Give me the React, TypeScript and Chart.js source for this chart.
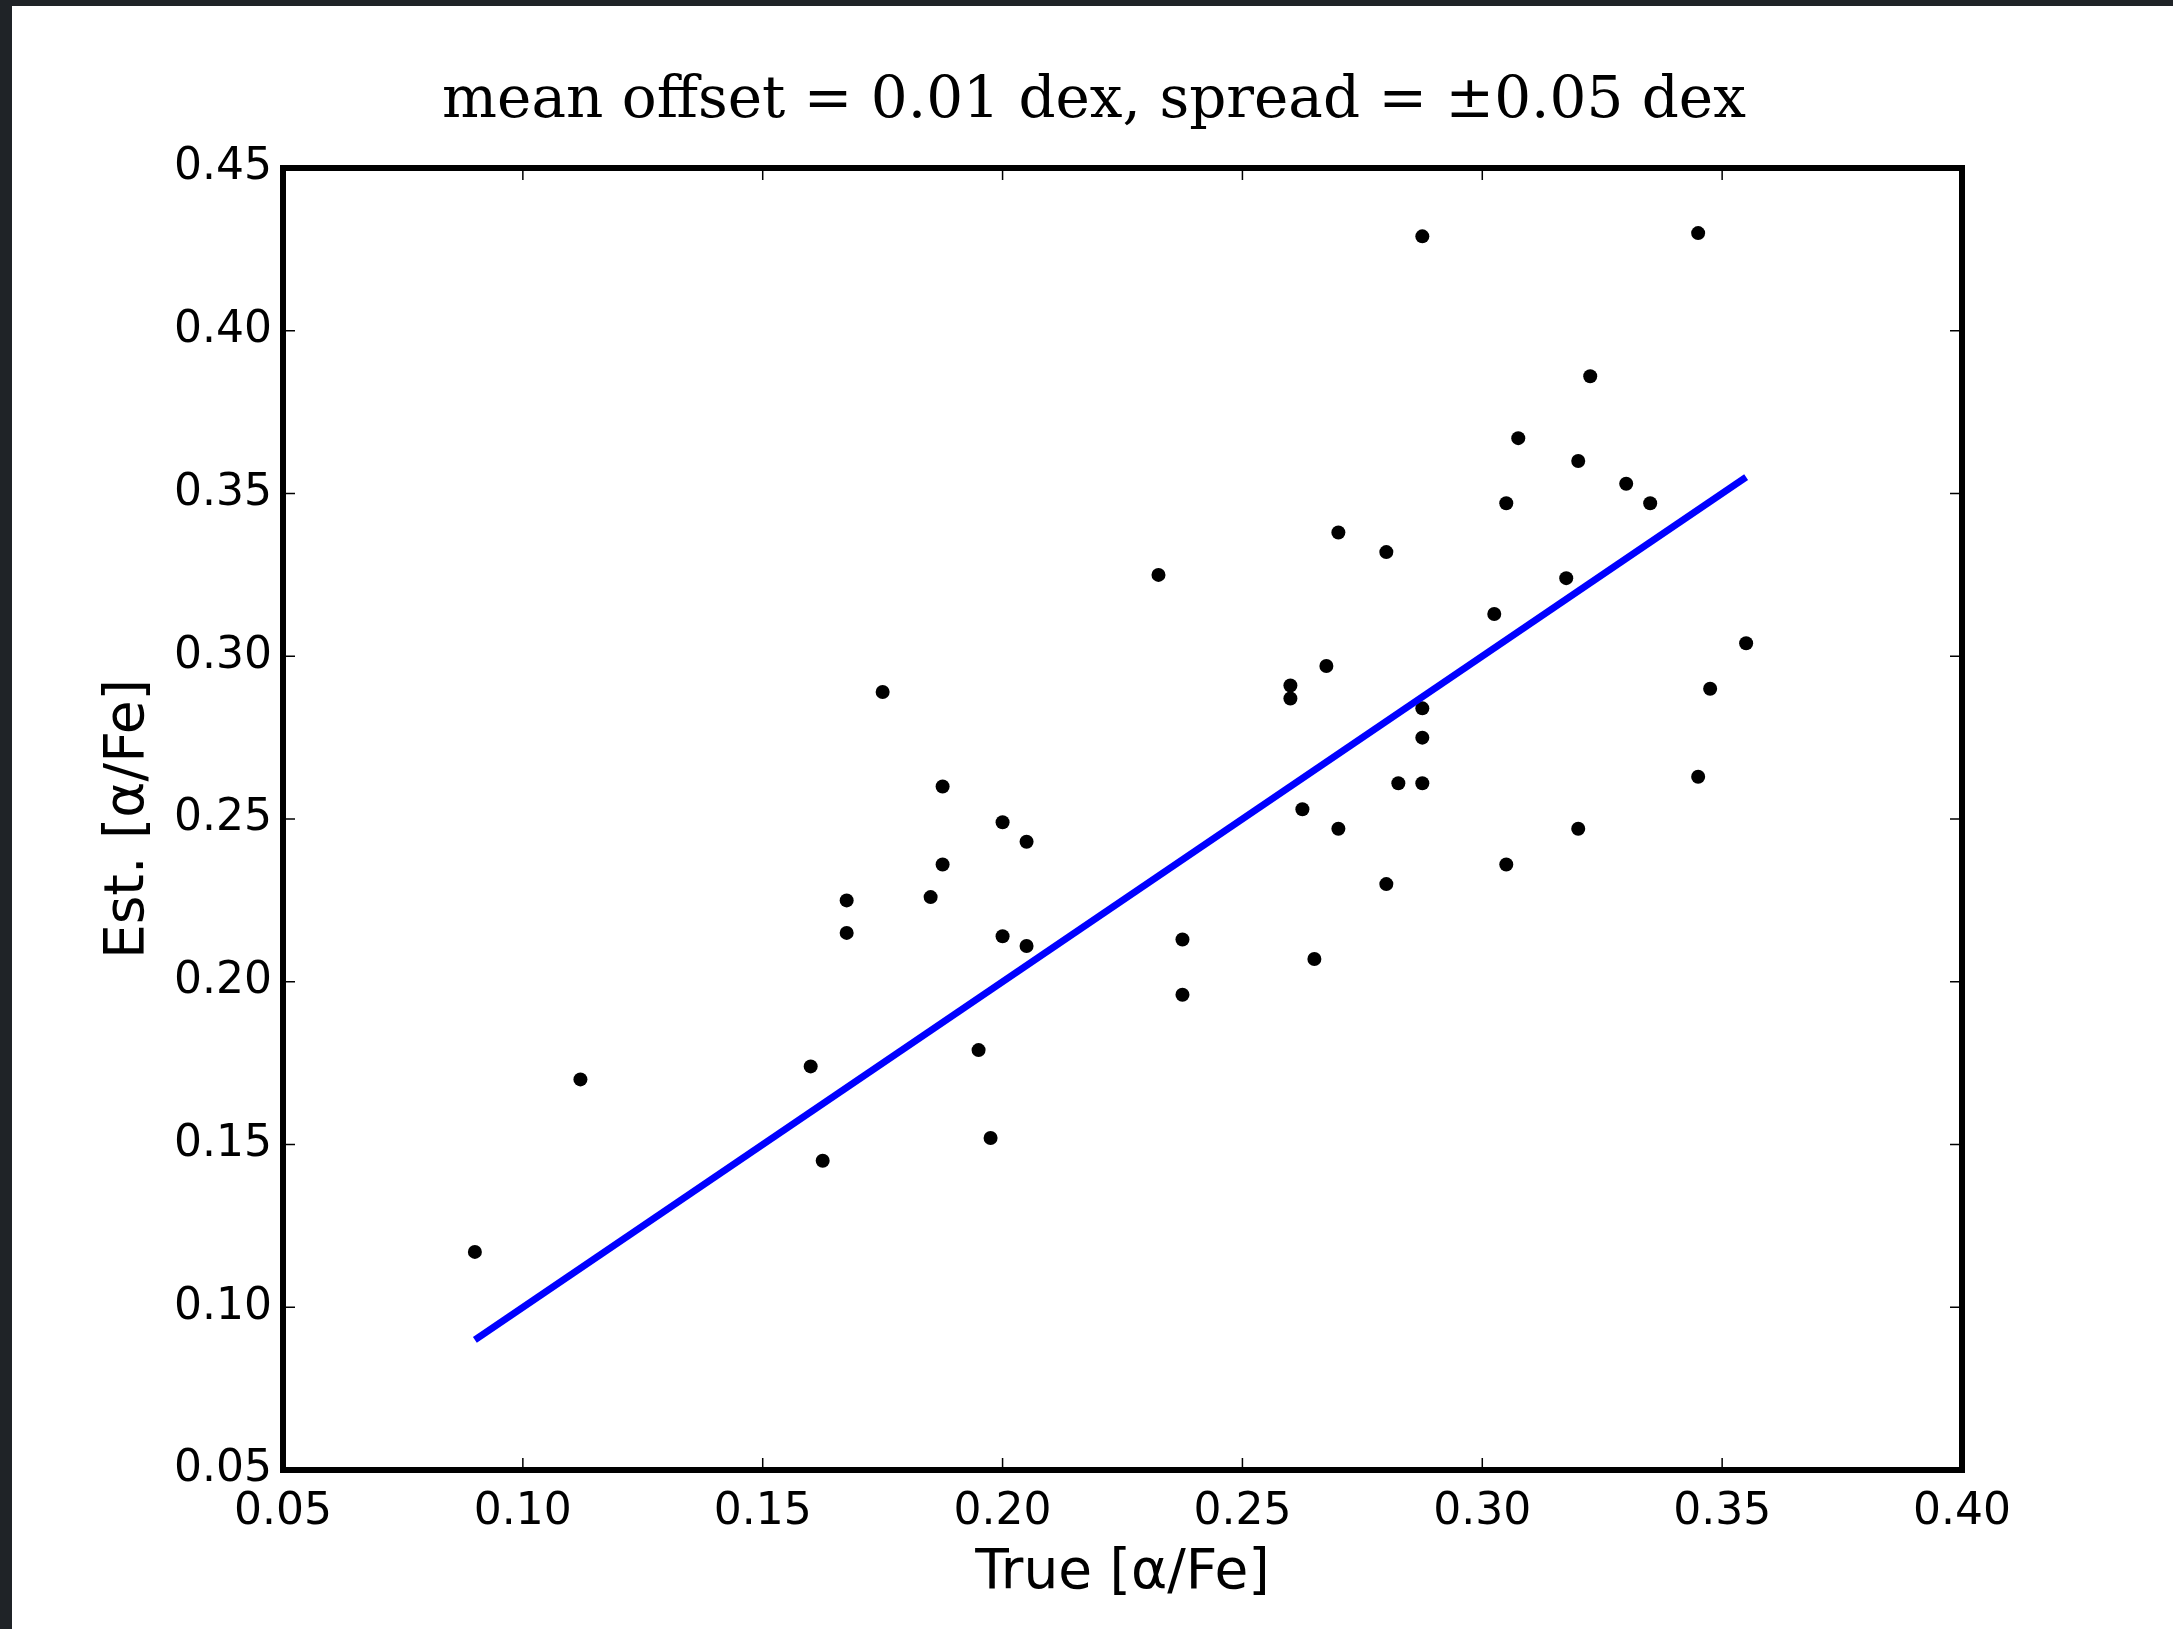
import React, { useEffect, useRef } from "react";
import { Chart, registerables } from "chart.js";

Chart.register(...registerables);

// ---- data ----
const trueAlpha = [
  0.090, 0.112, 0.160, 0.1625, 0.1675, 0.1675, 0.175, 0.185, 0.1875, 0.1875,
  0.195, 0.1975, 0.200, 0.200, 0.205, 0.205, 0.2325, 0.2375, 0.2375, 0.260,
  0.260, 0.2625, 0.265, 0.2675, 0.270, 0.270, 0.280, 0.280, 0.2825, 0.2875,
  0.2875, 0.2875, 0.2875, 0.3025, 0.305, 0.305, 0.3075, 0.3175, 0.320, 0.320,
  0.3225, 0.330, 0.335, 0.345, 0.345, 0.3475, 0.355,
];
const estAlpha = [
  0.117, 0.170, 0.174, 0.145, 0.225, 0.215, 0.289, 0.226, 0.260, 0.236,
  0.179, 0.152, 0.249, 0.214, 0.243, 0.211, 0.325, 0.213, 0.196, 0.291,
  0.287, 0.253, 0.207, 0.297, 0.338, 0.247, 0.332, 0.230, 0.261, 0.429,
  0.284, 0.275, 0.261, 0.313, 0.347, 0.236, 0.367, 0.324, 0.360, 0.247,
  0.386, 0.353, 0.347, 0.430, 0.263, 0.290, 0.304,
];
const fitX = [0.09, 0.355];
const fitY = [0.09, 0.355];
const xTickValues = [0.05, 0.10, 0.15, 0.20, 0.25, 0.30, 0.35, 0.40];
const yTickValues = [0.05, 0.10, 0.15, 0.20, 0.25, 0.30, 0.35, 0.40, 0.45];
const titleText = "mean offset = 0.01 dex, spread = ±0.05 dex";
const xLabel = "True [α/Fe]";
const yLabel = "Est. [α/Fe]";

const W = 2161;
const H = 1623;

const framePlugin = {
  id: "frameTicks",
  afterDraw(chart: any) {
    const { ctx, chartArea: a, scales } = chart;
    ctx.save();
    ctx.strokeStyle = "#000";
    ctx.lineWidth = 1.5;
    const len = 12;
    ctx.beginPath();
    for (const v of xTickValues) {
      const px = scales.x.getPixelForValue(v);
      ctx.moveTo(px, a.bottom);
      ctx.lineTo(px, a.bottom - len);
      ctx.moveTo(px, a.top);
      ctx.lineTo(px, a.top + len);
    }
    for (const v of yTickValues) {
      const py = scales.y.getPixelForValue(v);
      ctx.moveTo(a.left, py);
      ctx.lineTo(a.left + len, py);
      ctx.moveTo(a.right, py);
      ctx.lineTo(a.right - len, py);
    }
    ctx.stroke();
    ctx.lineWidth = 6;
    ctx.strokeRect(a.left, a.top, a.right - a.left, a.bottom - a.top);
    ctx.restore();
  },
};

export default function App() {
  const ref = useRef<HTMLCanvasElement | null>(null);

  useEffect(() => {
    if (!ref.current) return;
    const tickFont = { family: "DejaVu Sans", size: 44 };
    const labelFont = { family: "DejaVu Sans", size: 55 };
    const chart = new Chart(ref.current, {
      type: "scatter",
      data: {
        datasets: [
          {
            label: "fit",
            data: fitX.map((x, i) => ({ x, y: fitY[i] })),
            showLine: true,
            borderColor: "#0000ff",
            borderWidth: 7,
            pointRadius: 0,
            fill: false,
          },
          {
            label: "stars",
            data: trueAlpha.map((x, i) => ({ x, y: estAlpha[i] })),
            backgroundColor: "#000",
            borderWidth: 0,
            pointRadius: 7,
            pointHoverRadius: 7,
          },
        ],
      },
      options: {
        responsive: false,
        animation: false,
        events: [],
        layout: { padding: { left: 50, right: 47, top: 0, bottom: 0 } },
        plugins: {
          legend: { display: false },
          tooltip: { enabled: false },
          title: {
            display: true,
            text: titleText,
            color: "#000",
            font: { family: "DejaVu Serif", size: 58, weight: "normal" },
            padding: { top: 61, bottom: 31.4 },
          },
        },
        scales: {
          x: {
            type: "linear",
            min: 0.05,
            max: 0.4,
            grid: { display: false },
            border: { display: false },
            ticks: {
              stepSize: 0.05,
              autoSkip: false,
              maxRotation: 0,
              color: "#000",
              font: tickFont,
              padding: 8,
              callback: (v: any) => Number(v).toFixed(2),
            },
            title: {
              display: true,
              text: xLabel,
              color: "#000",
              font: labelFont,
              padding: { top: 0, bottom: 22 },
            },
            afterFit: (s: any) => {
              s.height = 159;
            },
          },
          y: {
            type: "linear",
            position: "left",
            min: 0.05,
            max: 0.45,
            grid: { display: false },
            border: { display: false },
            ticks: {
              stepSize: 0.05,
              autoSkip: false,
              color: "#000",
              font: tickFont,
              padding: 3,
              callback: (v: any) => Number(v).toFixed(2),
            },
            title: {
              display: true,
              text: yLabel,
              color: "#000",
              font: labelFont,
              padding: { top: 34, bottom: 0 },
            },
            afterFit: (s: any) => {
              s.width = 221;
            },
          },
          yRight: {
            type: "linear",
            position: "right",
            min: 0.05,
            max: 0.45,
            grid: { display: false },
            border: { display: false },
            ticks: { display: false },
            afterFit: (s: any) => {
              s.width = 164;
            },
          },
        },
      },
      plugins: [framePlugin],
    } as any);
    return () => chart.destroy();
  }, []);

  return (
    <div
      style={{
        position: "absolute",
        left: 0,
        top: 0,
        width: 2173,
        height: 1629,
        background: "#1f2327",
        overflow: "hidden",
      }}
    >
      <div
        style={{
          position: "absolute",
          left: 12,
          top: 6,
          width: W,
          height: H,
          background: "#fff",
        }}
      >
        <canvas ref={ref} width={W} height={H} style={{ width: W, height: H, display: "block" }} />
      </div>
    </div>
  );
}
